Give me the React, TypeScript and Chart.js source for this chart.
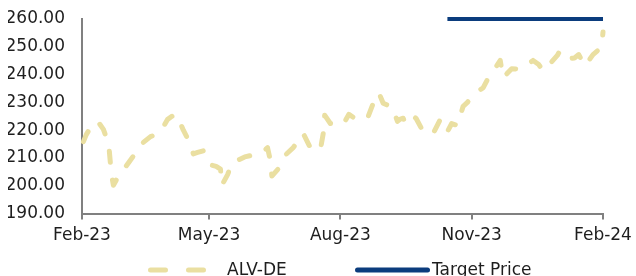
import React, { useEffect, useRef } from 'react';
import { Chart, registerables } from 'chart.js';

Chart.register(...registerables);

const seriesNames = ['ALV-DE', 'Target Price'];

const priceDates = [
  '2023-02-02', '2023-02-04', '2023-02-07', '2023-02-12', '2023-02-16', '2023-02-19', '2023-02-20', '2023-02-21',
  '2023-02-22', '2023-02-23', '2023-02-27', '2023-02-28', '2023-03-02', '2023-03-07', '2023-03-11', '2023-03-14',
  '2023-03-21', '2023-03-25', '2023-03-28', '2023-04-02', '2023-04-05', '2023-04-08', '2023-04-11', '2023-04-13',
  '2023-04-16', '2023-04-20', '2023-04-23', '2023-04-27', '2023-05-02', '2023-05-06', '2023-05-09', '2023-05-10',
  '2023-05-14', '2023-05-17', '2023-05-26', '2023-05-31', '2023-06-06', '2023-06-11', '2023-06-13', '2023-06-14',
  '2023-06-19', '2023-06-22', '2023-06-29', '2023-07-02', '2023-07-06', '2023-07-11', '2023-07-14', '2023-07-18',
  '2023-07-20', '2023-07-21', '2023-07-25', '2023-07-29', '2023-08-03', '2023-08-07', '2023-08-11', '2023-08-16',
  '2023-08-20', '2023-08-24', '2023-08-26', '2023-08-28', '2023-08-31', '2023-09-03', '2023-09-06', '2023-09-10',
  '2023-09-12', '2023-09-14', '2023-09-15', '2023-09-18', '2023-09-21', '2023-09-23', '2023-09-28', '2023-10-01',
  '2023-10-05', '2023-10-10', '2023-10-13', '2023-10-15', '2023-10-18', '2023-10-22', '2023-10-26', '2023-10-29',
  '2023-11-02', '2023-11-05', '2023-11-09', '2023-11-13', '2023-11-17', '2023-11-21', '2023-11-23', '2023-11-29',
  '2023-12-04', '2023-12-08', '2023-12-14', '2023-12-18', '2023-12-21', '2023-12-26', '2023-12-31', '2024-01-02',
  '2024-01-07', '2024-01-09', '2024-01-12', '2024-01-15', '2024-01-19', '2024-01-22', '2024-01-25', '2024-01-31',
  '2024-02-01',
];

const priceValues = [
  215.9, 218.4, 221.0, 223.2, 220.3, 216.0, 213.3, 207.5,
  203.0, 200.2, 203.9, 205.0, 205.7, 209.3, 212.0, 214.8,
  217.7, 218.5, 219.5, 223.9, 225.0, 225.7, 222.4, 220.0,
  217.0, 211.5, 212.0, 212.6, 207.5, 207.0, 206.0, 200.2,
  204.0, 208.2, 210.4, 211.0, 211.5, 213.7, 209.0, 203.5,
  206.4, 210.4, 213.7, 216.0, 218.8, 213.7, 213.0, 213.0,
  218.8, 225.4, 222.4, 222.0, 222.1, 225.7, 224.3, 224.0,
  224.3, 229.7, 232.0, 233.4, 229.7, 229.0, 228.6, 223.2,
  224.0, 224.3, 223.2, 225.7, 225.0, 224.3, 219.5, 219.0,
  218.8, 223.9, 221.0, 219.5, 222.4, 221.7, 228.6, 230.0,
  232.7, 234.0, 235.2, 239.2, 242.0, 245.1, 238.9, 242.1,
  242.0, 242.9, 245.1, 243.6, 241.4, 244.0, 246.9, 248.7,
  246.9, 245.8, 246.0, 247.2, 243.2, 245.0, 247.2, 249.8,
  255.3,
];

const targetDates = ['2023-10-15', '2024-02-01'];
const targetValues = [260, 260];

const tickDates = ['2023-02-01', '2023-05-01', '2023-08-01', '2023-11-01', '2024-02-01'];
const tickLabels = ['Feb-23', 'May-23', 'Aug-23', 'Nov-23', 'Feb-24'];

const yMin = 190;
const yMax = 260;
const yStep = 10;

const DAY = 86400000;
const origin = Date.parse(tickDates[0]);
const toDay = (s: string) => Math.round((Date.parse(s) - origin) / DAY);
const tickDays = tickDates.map(toDay);

const FONT = 'DejaVu Sans';
const FONT_SIZE = 17;
const TEXT_COLOR = '#1e1e1e';
const AXIS_COLOR = '#808080';
const PRICE_COLOR = '#EADFA1';
const TARGET_COLOR = '#0B3C7D';

const legendLayout = [
  { lineFrom: 68.5, lineTo: 121.5, textX: 145, dash: [15, 23] },
  { lineFrom: 275.5, lineTo: 345.5, textX: 350, dash: [] as number[] },
];

const legendPlugin = {
  id: 'customLegend',
  afterDraw(chart: any) {
    const { ctx, chartArea } = chart;
    const y = chartArea.bottom + 56.5;
    ctx.save();
    chart.data.datasets.forEach((ds: any, i: number) => {
      const L = legendLayout[i];
      if (!L) return;
      ctx.beginPath();
      ctx.strokeStyle = ds.borderColor;
      ctx.lineWidth = 5;
      ctx.lineCap = 'round';
      ctx.setLineDash(L.dash);
      ctx.moveTo(chartArea.left + L.lineFrom, y);
      ctx.lineTo(chartArea.left + L.lineTo, y);
      ctx.stroke();
      ctx.setLineDash([]);
      ctx.fillStyle = TEXT_COLOR;
      ctx.font = `${FONT_SIZE}px "${FONT}"`;
      ctx.textBaseline = 'middle';
      ctx.textAlign = 'left';
      ctx.fillText(ds.label, chartArea.left + L.textX, y);
    });
    ctx.restore();
  },
};

export default function App() {
  const ref = useRef<HTMLCanvasElement | null>(null);

  useEffect(() => {
    document.documentElement.style.overflow = 'hidden';
    if (!ref.current) return;
    const chart = new Chart(ref.current, {
      type: 'line',
      data: {
        datasets: [
          {
            label: seriesNames[0],
            data: priceDates.map((d, i) => ({ x: toDay(d), y: priceValues[i] })),
            borderColor: PRICE_COLOR,
            borderWidth: 5,
            borderDash: [11, 18],
            borderCapStyle: 'round',
            borderJoinStyle: 'round',
            pointRadius: 0,
            tension: 0,
            clip: false,
          },
          {
            label: seriesNames[1],
            data: targetDates.map((d, i) => ({ x: toDay(d), y: targetValues[i] })),
            borderColor: TARGET_COLOR,
            borderWidth: 4,
            pointRadius: 0,
            tension: 0,
            clip: false,
          },
        ],
      },
      options: {
        animation: false,
        responsive: true,
        maintainAspectRatio: false,
        layout: { padding: { top: 0, bottom: 24, left: 0, right: 0 } },
        plugins: {
          legend: { display: false },
          tooltip: { enabled: false },
        },
        scales: {
          x: {
            type: 'linear',
            min: tickDays[0],
            max: tickDays[tickDays.length - 1],
            afterBuildTicks: (axis: any) => {
              axis.ticks = tickDays.map((v) => ({ value: v }));
            },
            afterFit: (scale: any) => {
              scale.paddingRight = 33;
            },
            ticks: {
              autoSkip: false,
              maxRotation: 0,
              padding: 6,
              color: TEXT_COLOR,
              font: { family: FONT, size: FONT_SIZE },
              callback: (v: any) => {
                const i = tickDays.indexOf(Number(v));
                return i >= 0 ? tickLabels[i] : '';
              },
            },
            grid: {
              display: true,
              drawOnChartArea: false,
              drawTicks: true,
              tickLength: 6,
              color: AXIS_COLOR,
              lineWidth: 2,
            },
            border: { display: true, color: AXIS_COLOR, width: 2 },
          },
          y: {
            min: yMin,
            max: yMax,
            afterFit: (scale: any) => {
              scale.width = 74;
              scale.paddingTop = 11;
            },
            ticks: {
              stepSize: yStep,
              padding: 17,
              color: TEXT_COLOR,
              font: { family: FONT, size: FONT_SIZE },
              callback: (v: any) => Number(v).toFixed(2),
            },
            grid: { display: true, drawOnChartArea: false, drawTicks: false },
            border: { display: true, color: AXIS_COLOR, width: 2 },
          },
        },
      },
      plugins: [legendPlugin],
    } as any);
    return () => chart.destroy();
  }, []);

  return (
    <div style={{ position: 'fixed', left: 8, top: 8, width: 628, height: 268 }}>
      <canvas ref={ref} />
    </div>
  );
}
